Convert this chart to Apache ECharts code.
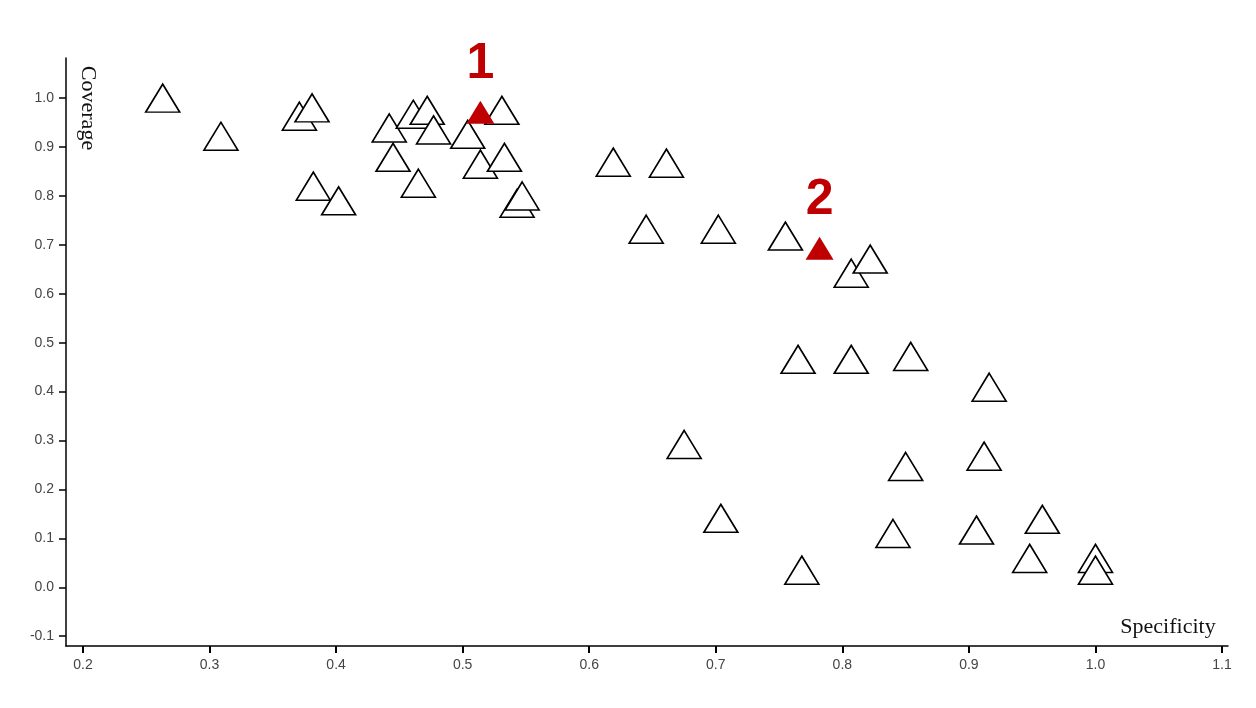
<!DOCTYPE html><html><head><meta charset="utf-8"><script src="https://cdn.jsdelivr.net/npm/echarts@6/dist/echarts.min.js"></script></head><body style="margin:0"><div id="c" style="width:1256px;height:708px"></div><script>
const specificity=[0.263,0.309,0.371,0.381,0.382,0.402,0.442,0.445,0.461,0.472,0.477,0.465,0.504,0.514,0.531,0.533,0.543,0.547,0.619,0.661,0.645,0.702,0.755,0.807,0.822,0.765,0.807,0.854,0.916,0.675,0.85,0.912,0.704,0.84,0.906,0.958,0.948,0.768,1.0,1.0];
const coverage=[1.0,0.922,0.963,0.98,0.82,0.79,0.939,0.879,0.967,0.975,0.935,0.826,0.926,0.865,0.975,0.879,0.785,0.8,0.869,0.867,0.732,0.732,0.718,0.642,0.671,0.466,0.466,0.472,0.409,0.292,0.247,0.268,0.141,0.11,0.117,0.139,0.059,0.035,0.059,0.035];
const highlightX=[0.514,0.782], highlightY=[0.971,0.693], highlightLabels=['1','2'];
const xTicks=[0.2,0.3,0.4,0.5,0.6,0.7,0.8,0.9,1.0,1.1];
const yTicks=[-0.1,0,0.1,0.2,0.3,0.4,0.5,0.6,0.7,0.8,0.9,1.0];
const ch=echarts.init(document.getElementById('c'));
const lab={color:'#444',fontSize:14,fontFamily:'Liberation Sans, Arial',formatter:v=>(+v).toFixed(1)};
ch.setOption({animation:false,
grid:{left:66,right:28,top:58,bottom:62},
xAxis:{type:'value',min:0.1866,max:1.1047,axisLine:{onZero:false,lineStyle:{color:'#000',width:1.5}},splitLine:{show:false},
 axisTick:{customValues:xTicks,length:7,lineStyle:{color:'#000',width:2}},axisLabel:Object.assign({customValues:xTicks,margin:12},lab)},
yAxis:{type:'value',min:-0.12,max:1.082,axisLine:{show:true,onZero:false,lineStyle:{color:'#000',width:1.5}},splitLine:{show:false},
 axisTick:{show:true,customValues:yTicks,length:7,lineStyle:{color:'#000',width:1.5}},axisLabel:Object.assign({customValues:yTicks,margin:12},lab)},
graphic:[{type:'text',x:88,y:108,rotation:-Math.PI/2,style:{text:'Coverage',font:'22px "Liberation Serif", serif',fill:'#111',align:'center',verticalAlign:'middle'}},
 {type:'text',x:1168,y:627,style:{text:'Specificity',font:'22px "Liberation Serif", serif',fill:'#111',align:'center',verticalAlign:'middle'}}],
series:[{type:'scatter',symbol:'triangle',symbolSize:[34,28],data:specificity.map((x,i)=>[x,coverage[i]]),
 itemStyle:{color:'#fff',borderColor:'#000',borderWidth:1.6,opacity:1}},
 {type:'scatter',symbol:'triangle',symbolSize:[28,23],data:highlightX.map((x,i)=>[x,highlightY[i],highlightLabels[i]]),
 itemStyle:{color:'#c00000',opacity:1},label:{show:true,position:'top',distance:12,formatter:p=>p.data[2],color:'#c00000',fontSize:50,fontWeight:'bold',fontFamily:'Liberation Sans, Arial'}}]
});
</script></body></html>
